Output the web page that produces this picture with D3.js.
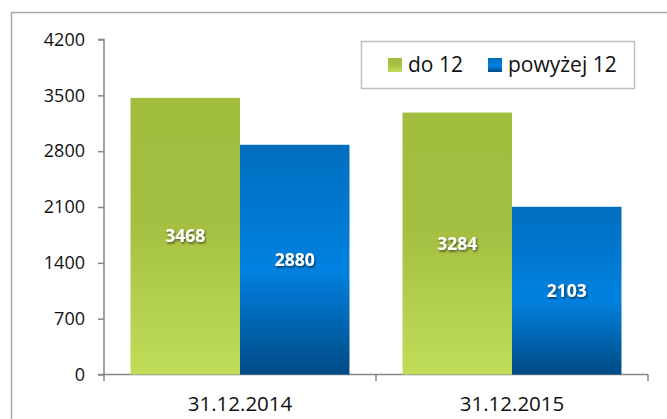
<!DOCTYPE html>
<html><head><meta charset="utf-8">
<script src="https://cdn.jsdelivr.net/npm/d3@7"></script>
<style>body{margin:0;background:#fff;} svg{display:block;}</style>
</head><body>
<script>
const categories = ["31.12.2014", "31.12.2015"];
const seriesNames = ["do 12", "powyżej 12"];
const do12 = [3468, 3284];
const powyzej12 = [2880, 2103];
const yTicks = [0, 700, 1400, 2100, 2800, 3500, 4200];

const W = 667, H = 419;
const font = "'Open Sans', sans-serif";
const svg = d3.select("body").append("svg").attr("width", W).attr("height", H);
const defs = svg.append("defs");

const g1 = defs.append("linearGradient").attr("id","gGreen").attr("x1",0).attr("y1",0).attr("x2",0).attr("y2",1);
g1.append("stop").attr("offset","0%").attr("stop-color","#a0bd3e");
g1.append("stop").attr("offset","45%").attr("stop-color","#a3c042");
g1.append("stop").attr("offset","100%").attr("stop-color","#c0dd59");
const g2 = defs.append("linearGradient").attr("id","gBlue").attr("x1",0).attr("y1",0).attr("x2",0).attr("y2",1);
g2.append("stop").attr("offset","0%").attr("stop-color","#006ebf");
g2.append("stop").attr("offset","55%").attr("stop-color","#0081e0");
g2.append("stop").attr("offset","100%").attr("stop-color","#004a84");
const f = defs.append("filter").attr("id","shadow").attr("x","-20%").attr("y","-30%").attr("width","150%").attr("height","170%");
f.append("feDropShadow").attr("dx",1).attr("dy",1.5).attr("stdDeviation",1).attr("flood-color","#000").attr("flood-opacity",0.6);

// outer chart border
svg.append("rect").attr("x",11.5).attr("y",12.5).attr("width",W+10).attr("height",H+10)
  .attr("fill","#fff").attr("stroke","#a6a6a6").attr("stroke-width",1.5);

const y = d3.scaleLinear().domain([0,4200]).range([374.5,39.5]);
const x0 = d3.scaleBand().domain(categories).range([104,648]).paddingInner(0.195).paddingOuter(0.0975);
const x1 = d3.scaleBand().domain(seriesNames).range([0, x0.bandwidth()]);

const data = categories.map((c,i)=>({cat:c, vals:[{s:seriesNames[0], v:do12[i]},{s:seriesNames[1], v:powyzej12[i]}]}));
const fills = {"do 12":"url(#gGreen)", "powyżej 12":"url(#gBlue)"};

// axes
const yAxis = svg.append("g").attr("transform","translate(104,0)")
  .call(d3.axisLeft(y).tickValues(yTicks).tickSize(6).tickPadding(13).tickFormat(d3.format("d")));
yAxis.select(".domain").attr("stroke","#868686").attr("stroke-width",1.5).attr("d","M-6,39.5H0V374.5H-6");
yAxis.selectAll(".tick line").attr("stroke","#868686").attr("stroke-width",1.5);
yAxis.selectAll(".tick text").attr("font-family",font).attr("font-size","18px").attr("fill","#111");

const xAxis = svg.append("g").attr("transform","translate(0,374.5)")
  .call(d3.axisBottom(x0).tickSize(0).tickPadding(22));
xAxis.select(".domain").remove();
xAxis.selectAll(".tick text").attr("font-family",font).attr("font-size","20.5px").attr("fill","#111");
// x axis line and category boundary ticks
const bounds = [104, 104 + x0.step(), 648];
svg.append("line").attr("x1",104).attr("x2",648).attr("y1",374.5).attr("y2",374.5).attr("stroke","#868686").attr("stroke-width",1.5);
svg.selectAll(".xb").data(bounds).enter().append("line")
  .attr("x1",d=>d).attr("x2",d=>d).attr("y1",374.5).attr("y2",381).attr("stroke","#868686").attr("stroke-width",1.5);

// bars
const grp = svg.selectAll(".grp").data(data).enter().append("g").attr("transform",d=>`translate(${x0(d.cat)},0)`);
grp.selectAll("rect").data(d=>d.vals).enter().append("rect")
  .attr("x",d=>x1(d.s)).attr("width",x1.bandwidth())
  .attr("y",d=>y(d.v)).attr("height",d=>y(0)-y(d.v))
  .attr("fill",d=>fills[d.s]);
grp.selectAll("text").data(d=>d.vals).enter().append("text")
  .attr("x",d=>x1(d.s)+x1.bandwidth()/2)
  .attr("y",d=>(y(d.v)+y(0))/2)
  .attr("dy","0.36em").attr("text-anchor","middle")
  .attr("font-family",font).attr("font-weight","bold").attr("font-size","17.5px")
  .attr("fill","#fff").attr("filter","url(#shadow)")
  .text(d=>d.v);

// legend
const lg = svg.append("g");
lg.append("rect").attr("x",361.5).attr("y",41.5).attr("width",273).attr("height",47)
  .attr("fill","#fff").attr("stroke","#bfbfbf").attr("stroke-width",1.5);
const lx = [388, 488];
seriesNames.forEach((s,i)=>{
  lg.append("rect").attr("x",lx[i]).attr("y",58).attr("width",14).attr("height",14).attr("fill",fills[s]);
  lg.append("text").attr("x",lx[i]+20).attr("y",72).attr("font-family",font).attr("font-size","21px")
    .attr("fill","#111").text(s);
});
</script>
</body></html>
